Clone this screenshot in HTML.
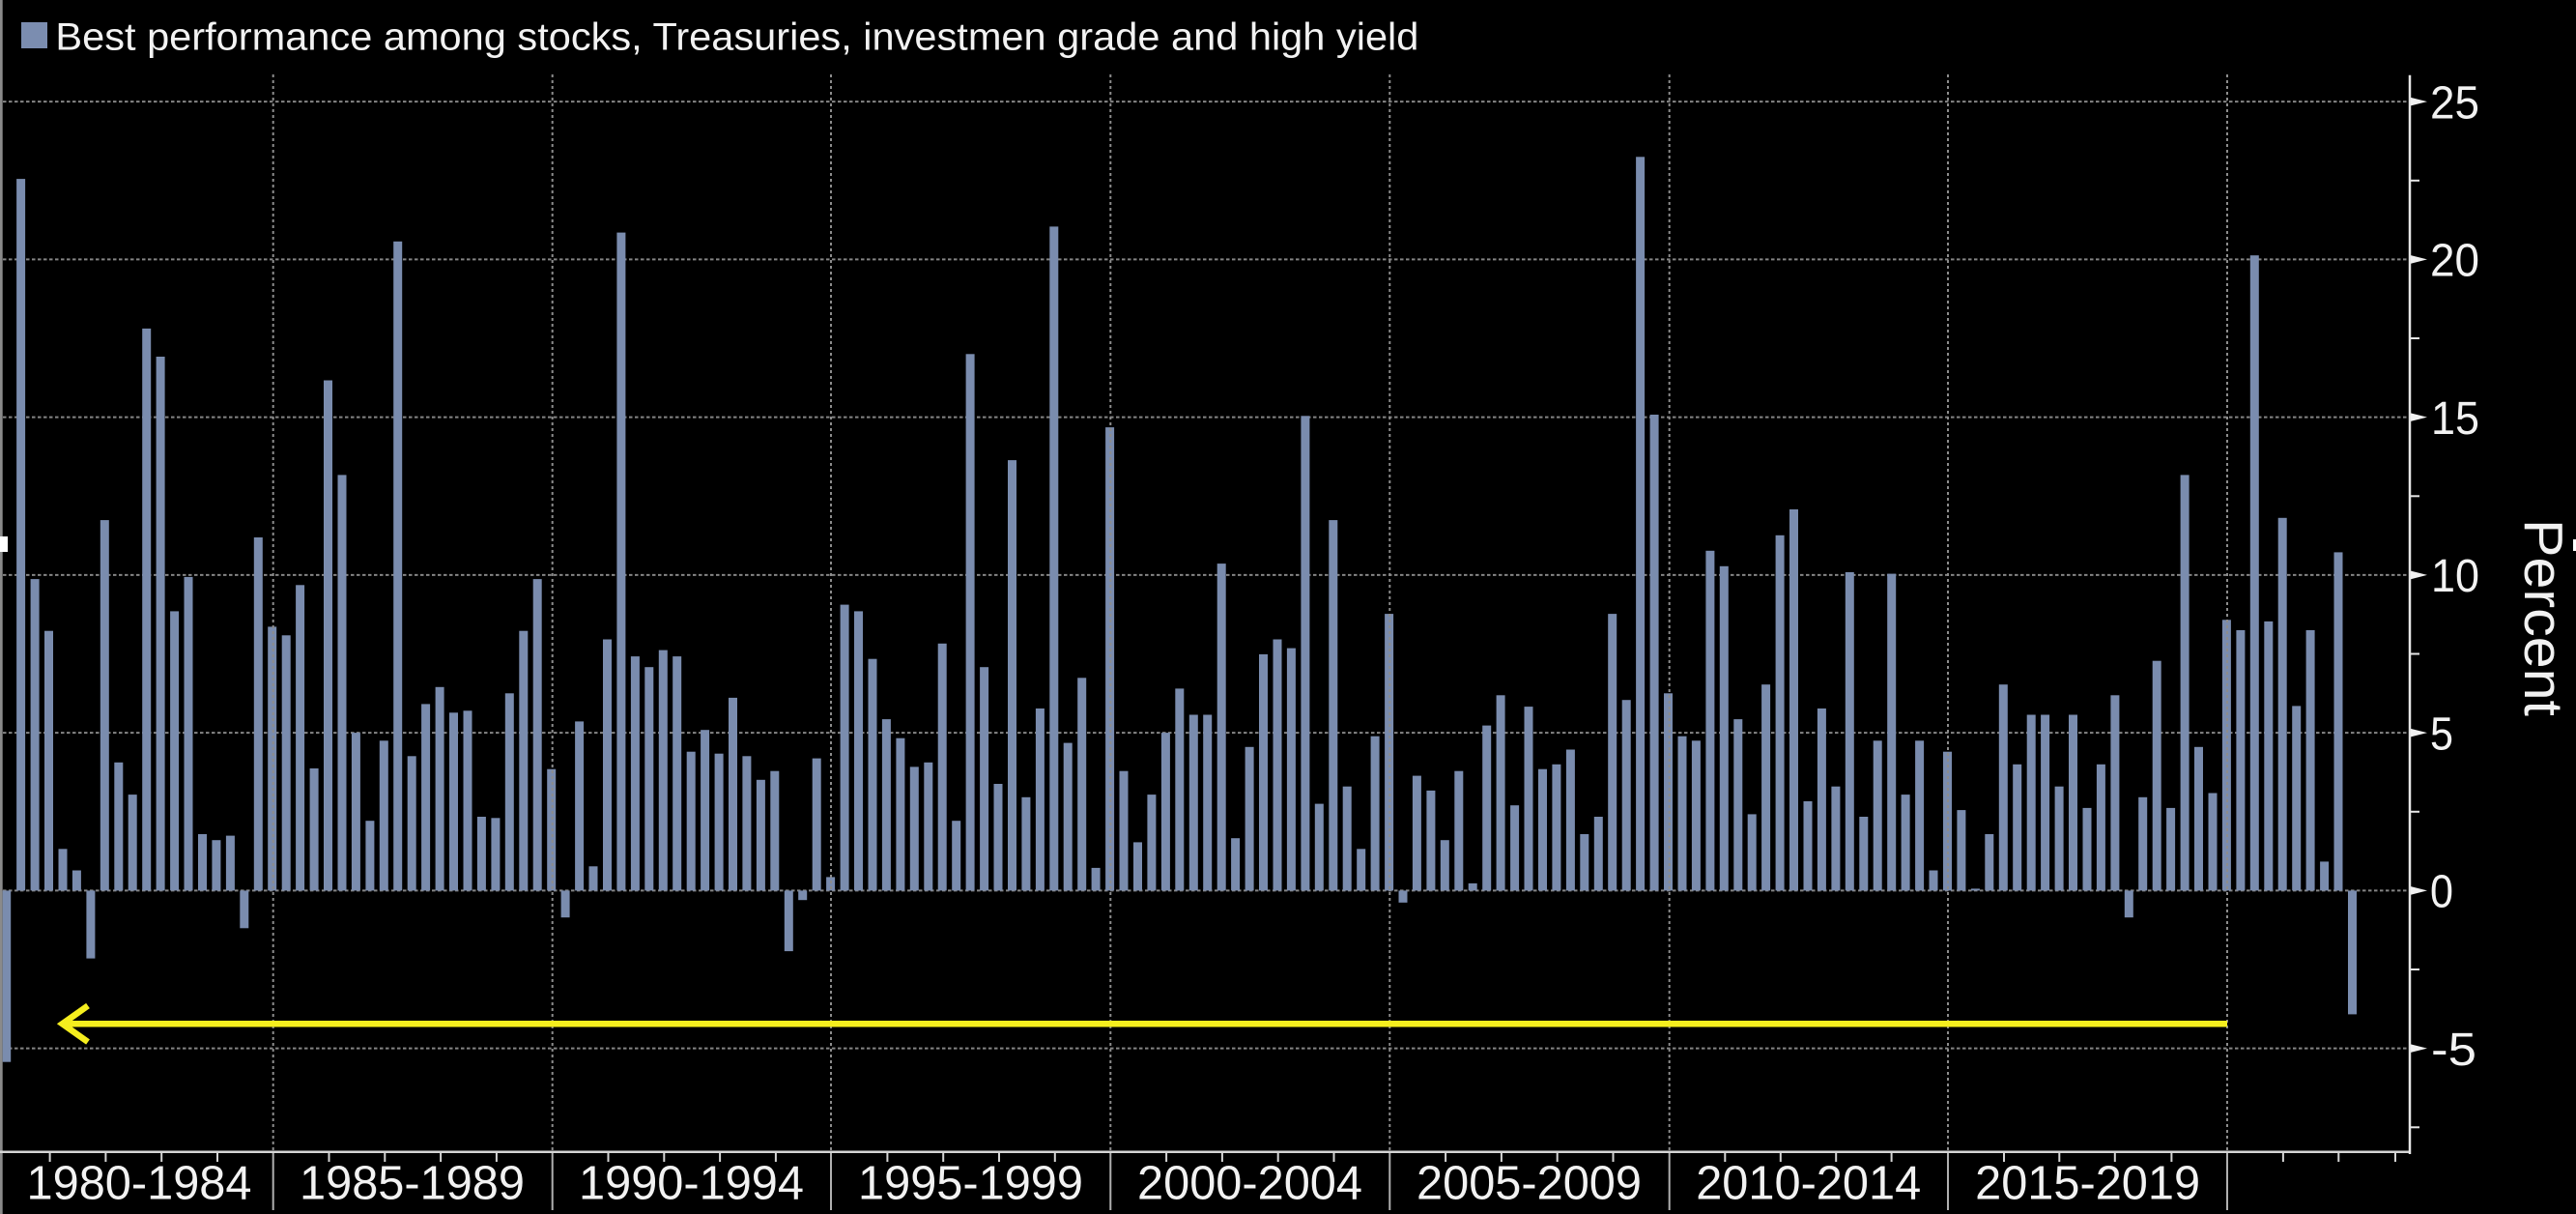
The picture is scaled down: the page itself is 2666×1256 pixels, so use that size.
<!DOCTYPE html>
<html><head><meta charset="utf-8"><style>
html,body{margin:0;padding:0;background:#000;}
svg{display:block;}
text{font-family:"Liberation Sans",sans-serif;fill:#f2f2f2;}
</style></head><body>
<svg width="2666" height="1256" viewBox="0 0 2666 1256" xmlns="http://www.w3.org/2000/svg">
<rect x="0" y="0" width="2666" height="1256" fill="#000"/>
<rect x="0" y="0" width="2.7" height="1256" fill="#8a8a8a"/>
<rect x="0" y="555" width="8" height="16" fill="#fff"/>
<rect x="2663" y="558" width="3" height="12" fill="#fff"/>
<rect x="22" y="23" width="27" height="27" fill="#7b8db0"/>
<text x="57.4" y="51.7" font-size="40" textLength="1411" lengthAdjust="spacingAndGlyphs">Best performance among stocks, Treasuries, investmen grade and high yield</text>
<g stroke="#858585" stroke-width="2" stroke-dasharray="3.5 2.5">
<line x1="3" y1="105.15" x2="2493" y2="105.15"/>
<line x1="3" y1="268.4" x2="2493" y2="268.4"/>
<line x1="3" y1="431.65" x2="2493" y2="431.65"/>
<line x1="3" y1="594.9" x2="2493" y2="594.9"/>
<line x1="3" y1="758.15" x2="2493" y2="758.15"/>
<line x1="3" y1="921.4" x2="2493" y2="921.4"/>
<line x1="3" y1="1084.65" x2="2493" y2="1084.65"/>
</g>
<g fill="#7a8cae">
<rect x="2.7" y="921.4" width="8.5" height="177.3"/>
<rect x="17.1" y="185.1" width="9" height="736.3"/>
<rect x="31.6" y="599.1" width="9" height="322.3"/>
<rect x="46.0" y="652.7" width="9" height="268.7"/>
<rect x="60.5" y="878.3" width="9" height="43.1"/>
<rect x="74.9" y="900.5" width="9" height="20.9"/>
<rect x="89.4" y="921.4" width="9" height="70.2"/>
<rect x="103.8" y="538.1" width="9" height="383.3"/>
<rect x="118.3" y="788.8" width="9" height="132.6"/>
<rect x="132.7" y="822.1" width="9" height="99.3"/>
<rect x="147.2" y="339.9" width="9" height="581.5"/>
<rect x="161.6" y="369.0" width="9" height="552.4"/>
<rect x="176.1" y="632.4" width="9" height="289.0"/>
<rect x="190.5" y="596.9" width="9" height="324.5"/>
<rect x="205.0" y="863.0" width="9" height="58.4"/>
<rect x="219.4" y="869.2" width="9" height="52.2"/>
<rect x="233.9" y="864.6" width="9" height="56.8"/>
<rect x="248.3" y="921.4" width="9" height="38.9"/>
<rect x="262.8" y="556.0" width="9" height="365.4"/>
<rect x="277.2" y="648.4" width="9" height="273.0"/>
<rect x="291.7" y="657.3" width="9" height="264.1"/>
<rect x="306.1" y="605.3" width="9" height="316.1"/>
<rect x="320.6" y="795.0" width="9" height="126.4"/>
<rect x="335.0" y="393.5" width="9" height="527.9"/>
<rect x="349.5" y="491.4" width="9" height="430.0"/>
<rect x="363.9" y="758.1" width="9" height="163.3"/>
<rect x="378.4" y="849.2" width="9" height="72.2"/>
<rect x="392.8" y="766.3" width="9" height="155.1"/>
<rect x="407.2" y="249.8" width="9" height="671.6"/>
<rect x="421.7" y="782.3" width="9" height="139.1"/>
<rect x="436.1" y="728.4" width="9" height="193.0"/>
<rect x="450.6" y="710.8" width="9" height="210.6"/>
<rect x="465.0" y="737.3" width="9" height="184.1"/>
<rect x="479.5" y="735.3" width="9" height="186.1"/>
<rect x="493.9" y="845.0" width="9" height="76.4"/>
<rect x="508.4" y="846.3" width="9" height="75.1"/>
<rect x="522.8" y="717.3" width="9" height="204.1"/>
<rect x="537.3" y="652.7" width="9" height="268.7"/>
<rect x="551.7" y="599.1" width="9" height="322.3"/>
<rect x="566.2" y="795.7" width="9" height="125.7"/>
<rect x="580.6" y="921.4" width="9" height="27.8"/>
<rect x="595.1" y="746.4" width="9" height="175.0"/>
<rect x="609.5" y="896.3" width="9" height="25.1"/>
<rect x="624.0" y="661.5" width="9" height="259.9"/>
<rect x="638.4" y="240.6" width="9" height="680.8"/>
<rect x="652.9" y="679.1" width="9" height="242.3"/>
<rect x="667.3" y="690.2" width="9" height="231.2"/>
<rect x="681.8" y="672.6" width="9" height="248.8"/>
<rect x="696.2" y="679.1" width="9" height="242.3"/>
<rect x="710.7" y="777.7" width="9" height="143.7"/>
<rect x="725.1" y="755.2" width="9" height="166.2"/>
<rect x="739.6" y="779.7" width="9" height="141.7"/>
<rect x="754.0" y="721.9" width="9" height="199.5"/>
<rect x="768.4" y="782.3" width="9" height="139.1"/>
<rect x="782.9" y="806.8" width="9" height="114.6"/>
<rect x="797.3" y="797.7" width="9" height="123.7"/>
<rect x="811.8" y="921.4" width="9" height="62.7"/>
<rect x="826.2" y="921.4" width="9" height="9.8"/>
<rect x="840.7" y="784.6" width="9" height="136.8"/>
<rect x="855.1" y="907.4" width="9" height="14.0"/>
<rect x="869.6" y="625.6" width="9" height="295.8"/>
<rect x="884.0" y="632.4" width="9" height="289.0"/>
<rect x="898.5" y="681.7" width="9" height="239.7"/>
<rect x="912.9" y="744.1" width="9" height="177.3"/>
<rect x="927.4" y="763.7" width="9" height="157.7"/>
<rect x="941.8" y="793.4" width="9" height="128.0"/>
<rect x="956.3" y="788.8" width="9" height="132.6"/>
<rect x="970.7" y="665.8" width="9" height="255.6"/>
<rect x="985.2" y="849.2" width="9" height="72.2"/>
<rect x="999.6" y="366.3" width="9" height="555.1"/>
<rect x="1014.1" y="690.2" width="9" height="231.2"/>
<rect x="1028.5" y="811.0" width="9" height="110.4"/>
<rect x="1043.0" y="476.1" width="9" height="445.3"/>
<rect x="1057.4" y="824.8" width="9" height="96.6"/>
<rect x="1071.9" y="733.0" width="9" height="188.4"/>
<rect x="1086.3" y="234.4" width="9" height="687.0"/>
<rect x="1100.7" y="768.6" width="9" height="152.8"/>
<rect x="1115.2" y="701.3" width="9" height="220.1"/>
<rect x="1129.6" y="897.9" width="9" height="23.5"/>
<rect x="1144.1" y="442.1" width="9" height="479.3"/>
<rect x="1158.5" y="797.7" width="9" height="123.7"/>
<rect x="1173.0" y="871.4" width="9" height="50.0"/>
<rect x="1187.4" y="822.1" width="9" height="99.3"/>
<rect x="1201.9" y="758.1" width="9" height="163.3"/>
<rect x="1216.3" y="712.4" width="9" height="209.0"/>
<rect x="1230.8" y="739.5" width="9" height="181.9"/>
<rect x="1245.2" y="739.5" width="9" height="181.9"/>
<rect x="1259.7" y="583.1" width="9" height="338.3"/>
<rect x="1274.1" y="867.2" width="9" height="54.2"/>
<rect x="1288.6" y="772.8" width="9" height="148.6"/>
<rect x="1303.0" y="676.9" width="9" height="244.5"/>
<rect x="1317.5" y="661.5" width="9" height="259.9"/>
<rect x="1331.9" y="670.6" width="9" height="250.8"/>
<rect x="1346.4" y="430.3" width="9" height="491.1"/>
<rect x="1360.8" y="831.6" width="9" height="89.8"/>
<rect x="1375.3" y="538.1" width="9" height="383.3"/>
<rect x="1389.7" y="813.7" width="9" height="107.7"/>
<rect x="1404.2" y="878.3" width="9" height="43.1"/>
<rect x="1418.6" y="761.7" width="9" height="159.7"/>
<rect x="1433.1" y="635.1" width="9" height="286.3"/>
<rect x="1447.5" y="921.4" width="9" height="12.4"/>
<rect x="1461.9" y="802.6" width="9" height="118.8"/>
<rect x="1476.4" y="817.9" width="9" height="103.5"/>
<rect x="1490.8" y="869.2" width="9" height="52.2"/>
<rect x="1505.3" y="797.7" width="9" height="123.7"/>
<rect x="1519.7" y="913.9" width="9" height="7.5"/>
<rect x="1534.2" y="750.6" width="9" height="170.8"/>
<rect x="1548.6" y="719.3" width="9" height="202.1"/>
<rect x="1563.1" y="833.2" width="9" height="88.2"/>
<rect x="1577.5" y="731.1" width="9" height="190.3"/>
<rect x="1592.0" y="795.7" width="9" height="125.7"/>
<rect x="1606.4" y="790.8" width="9" height="130.6"/>
<rect x="1620.9" y="775.5" width="9" height="145.9"/>
<rect x="1635.3" y="863.0" width="9" height="58.4"/>
<rect x="1649.8" y="845.0" width="9" height="76.4"/>
<rect x="1664.2" y="635.1" width="9" height="286.3"/>
<rect x="1678.7" y="724.2" width="9" height="197.2"/>
<rect x="1693.1" y="162.3" width="9" height="759.1"/>
<rect x="1707.6" y="429.0" width="9" height="492.4"/>
<rect x="1722.0" y="717.3" width="9" height="204.1"/>
<rect x="1736.5" y="761.7" width="9" height="159.7"/>
<rect x="1750.9" y="766.3" width="9" height="155.1"/>
<rect x="1765.4" y="569.8" width="9" height="351.6"/>
<rect x="1779.8" y="585.8" width="9" height="335.6"/>
<rect x="1794.3" y="744.1" width="9" height="177.3"/>
<rect x="1808.7" y="842.4" width="9" height="79.0"/>
<rect x="1823.1" y="708.2" width="9" height="213.2"/>
<rect x="1837.6" y="553.8" width="9" height="367.6"/>
<rect x="1852.0" y="527.0" width="9" height="394.4"/>
<rect x="1866.5" y="829.0" width="9" height="92.4"/>
<rect x="1880.9" y="733.0" width="9" height="188.4"/>
<rect x="1895.4" y="813.7" width="9" height="107.7"/>
<rect x="1909.8" y="592.0" width="9" height="329.4"/>
<rect x="1924.3" y="845.0" width="9" height="76.4"/>
<rect x="1938.7" y="766.3" width="9" height="155.1"/>
<rect x="1953.2" y="593.6" width="9" height="327.8"/>
<rect x="1967.6" y="822.1" width="9" height="99.3"/>
<rect x="1982.1" y="766.3" width="9" height="155.1"/>
<rect x="1996.5" y="900.5" width="9" height="20.9"/>
<rect x="2011.0" y="777.7" width="9" height="143.7"/>
<rect x="2025.4" y="838.1" width="9" height="83.3"/>
<rect x="2039.9" y="919.4" width="9" height="2"/>
<rect x="2054.3" y="863.0" width="9" height="58.4"/>
<rect x="2068.8" y="708.2" width="9" height="213.2"/>
<rect x="2083.2" y="790.8" width="9" height="130.6"/>
<rect x="2097.7" y="739.5" width="9" height="181.9"/>
<rect x="2112.1" y="739.5" width="9" height="181.9"/>
<rect x="2126.6" y="813.7" width="9" height="107.7"/>
<rect x="2141.0" y="739.5" width="9" height="181.9"/>
<rect x="2155.5" y="835.9" width="9" height="85.5"/>
<rect x="2169.9" y="790.8" width="9" height="130.6"/>
<rect x="2184.4" y="719.3" width="9" height="202.1"/>
<rect x="2198.8" y="921.4" width="9" height="27.8"/>
<rect x="2213.2" y="824.8" width="9" height="96.6"/>
<rect x="2227.7" y="683.7" width="9" height="237.7"/>
<rect x="2242.1" y="835.9" width="9" height="85.5"/>
<rect x="2256.6" y="491.4" width="9" height="430.0"/>
<rect x="2271.0" y="772.8" width="9" height="148.6"/>
<rect x="2285.5" y="820.5" width="9" height="100.9"/>
<rect x="2299.9" y="641.3" width="9" height="280.1"/>
<rect x="2314.4" y="652.0" width="9" height="269.4"/>
<rect x="2328.8" y="264.2" width="9" height="657.2"/>
<rect x="2343.3" y="642.9" width="9" height="278.5"/>
<rect x="2357.7" y="535.8" width="9" height="385.6"/>
<rect x="2372.2" y="730.4" width="9" height="191.0"/>
<rect x="2386.6" y="652.0" width="9" height="269.4"/>
<rect x="2401.1" y="891.4" width="9" height="30.0"/>
<rect x="2415.5" y="571.4" width="9" height="350.0"/>
<rect x="2430.0" y="921.4" width="9" height="128.0"/>
</g>
<g stroke="#8c8c8c" stroke-width="2" stroke-dasharray="3 3">
<line x1="282.7" y1="77" x2="282.7" y2="1191"/>
<line x1="571.7" y1="77" x2="571.7" y2="1191"/>
<line x1="860" y1="77" x2="860" y2="1191"/>
<line x1="1149.3" y1="77" x2="1149.3" y2="1191"/>
<line x1="1438.3" y1="77" x2="1438.3" y2="1191"/>
<line x1="1727.7" y1="77" x2="1727.7" y2="1191"/>
<line x1="2016" y1="77" x2="2016" y2="1191"/>
<line x1="2305" y1="77" x2="2305" y2="1191"/>
</g>
<g stroke="#b0b0b0" stroke-width="2">
<line x1="282.7" y1="1192" x2="282.7" y2="1252"/>
<line x1="571.7" y1="1192" x2="571.7" y2="1252"/>
<line x1="860" y1="1192" x2="860" y2="1252"/>
<line x1="1149.3" y1="1192" x2="1149.3" y2="1252"/>
<line x1="1438.3" y1="1192" x2="1438.3" y2="1252"/>
<line x1="1727.7" y1="1192" x2="1727.7" y2="1252"/>
<line x1="2016" y1="1192" x2="2016" y2="1252"/>
<line x1="2305" y1="1192" x2="2305" y2="1252"/>
</g>
<g stroke="#f5ee1e" stroke-width="6.5" fill="none">
<line x1="64" y1="1059.3" x2="2305" y2="1059.3"/>
<polyline points="91,1040.5 64.5,1059.3 91,1078" stroke-linejoin="miter" stroke-miterlimit="4"/>
</g>
<line x1="0" y1="1191.7" x2="2495" y2="1191.7" stroke="#d4d4d4" stroke-width="2.5"/>
<g stroke="#d4d4d4" stroke-width="2">
<line x1="51.6" y1="1192" x2="51.6" y2="1202"/>
<line x1="109.4" y1="1192" x2="109.4" y2="1202"/>
<line x1="167.2" y1="1192" x2="167.2" y2="1202"/>
<line x1="225.0" y1="1192" x2="225.0" y2="1202"/>
<line x1="340.5" y1="1192" x2="340.5" y2="1202"/>
<line x1="398.3" y1="1192" x2="398.3" y2="1202"/>
<line x1="456.1" y1="1192" x2="456.1" y2="1202"/>
<line x1="513.9" y1="1192" x2="513.9" y2="1202"/>
<line x1="629.5" y1="1192" x2="629.5" y2="1202"/>
<line x1="687.3" y1="1192" x2="687.3" y2="1202"/>
<line x1="745.1" y1="1192" x2="745.1" y2="1202"/>
<line x1="802.9" y1="1192" x2="802.9" y2="1202"/>
<line x1="918.4" y1="1192" x2="918.4" y2="1202"/>
<line x1="976.2" y1="1192" x2="976.2" y2="1202"/>
<line x1="1034" y1="1192" x2="1034" y2="1202"/>
<line x1="1091.8" y1="1192" x2="1091.8" y2="1202"/>
<line x1="1207.1" y1="1192" x2="1207.1" y2="1202"/>
<line x1="1264.9" y1="1192" x2="1264.9" y2="1202"/>
<line x1="1322.7" y1="1192" x2="1322.7" y2="1202"/>
<line x1="1380.5" y1="1192" x2="1380.5" y2="1202"/>
<line x1="1496.1" y1="1192" x2="1496.1" y2="1202"/>
<line x1="1553.9" y1="1192" x2="1553.9" y2="1202"/>
<line x1="1611.7" y1="1192" x2="1611.7" y2="1202"/>
<line x1="1669.5" y1="1192" x2="1669.5" y2="1202"/>
<line x1="1785.3" y1="1192" x2="1785.3" y2="1202"/>
<line x1="1842.8" y1="1192" x2="1842.8" y2="1202"/>
<line x1="1900.2" y1="1192" x2="1900.2" y2="1202"/>
<line x1="1957.6" y1="1192" x2="1957.6" y2="1202"/>
<line x1="2074" y1="1192" x2="2074" y2="1202"/>
<line x1="2131.3" y1="1192" x2="2131.3" y2="1202"/>
<line x1="2188.8" y1="1192" x2="2188.8" y2="1202"/>
<line x1="2247.4" y1="1192" x2="2247.4" y2="1202"/>
<line x1="2362.9" y1="1192" x2="2362.9" y2="1202"/>
<line x1="2420.3" y1="1192" x2="2420.3" y2="1202"/>
<line x1="2479" y1="1192" x2="2479" y2="1202"/>
</g>
<g font-size="49" text-anchor="middle">
<text x="144" y="1240.7" textLength="233" lengthAdjust="spacingAndGlyphs">1980-1984</text>
<text x="426.5" y="1240.7" textLength="233" lengthAdjust="spacingAndGlyphs">1985-1989</text>
<text x="715.5" y="1240.7" textLength="233" lengthAdjust="spacingAndGlyphs">1990-1994</text>
<text x="1004.5" y="1240.7" textLength="233" lengthAdjust="spacingAndGlyphs">1995-1999</text>
<text x="1293.5" y="1240.7" textLength="233" lengthAdjust="spacingAndGlyphs">2000-2004</text>
<text x="1582.5" y="1240.7" textLength="233" lengthAdjust="spacingAndGlyphs">2005-2009</text>
<text x="1871.7" y="1240.7" textLength="233" lengthAdjust="spacingAndGlyphs">2010-2014</text>
<text x="2160.6" y="1240.7" textLength="233" lengthAdjust="spacingAndGlyphs">2015-2019</text>
</g>
<line x1="2494" y1="77.7" x2="2494" y2="1194" stroke="#e6e6e6" stroke-width="2.5"/>
<g fill="#f0f0f0">
<polygon points="2495,100.9 2512,105.15 2495,109.4"/>
<polygon points="2495,264.1 2512,268.4 2495,272.7"/>
<polygon points="2495,427.4 2512,431.65 2495,435.9"/>
<polygon points="2495,590.6 2512,594.9 2495,599.2"/>
<polygon points="2495,753.9 2512,758.15 2495,762.4"/>
<polygon points="2495,917.1 2512,921.4 2495,925.7"/>
<polygon points="2495,1080.4 2512,1084.65 2495,1088.9"/>
</g>
<g stroke="#e6e6e6" stroke-width="2">
<line x1="2495" y1="186.8" x2="2504" y2="186.8"/>
<line x1="2495" y1="350.0" x2="2504" y2="350.0"/>
<line x1="2495" y1="513.3" x2="2504" y2="513.3"/>
<line x1="2495" y1="676.5" x2="2504" y2="676.5"/>
<line x1="2495" y1="839.8" x2="2504" y2="839.8"/>
<line x1="2495" y1="1003.0" x2="2504" y2="1003.0"/>
<line x1="2495" y1="1166.3" x2="2504" y2="1166.3"/>
</g>
<g font-size="48">
<text x="2515" y="122.4" textLength="51" lengthAdjust="spacingAndGlyphs">25</text>
<text x="2515" y="285.6" textLength="51" lengthAdjust="spacingAndGlyphs">20</text>
<text x="2516" y="448.9" textLength="50" lengthAdjust="spacingAndGlyphs">15</text>
<text x="2516" y="612.1" textLength="50" lengthAdjust="spacingAndGlyphs">10</text>
<text x="2515" y="775.4" textLength="24" lengthAdjust="spacingAndGlyphs">5</text>
<text x="2515" y="938.6" textLength="24" lengthAdjust="spacingAndGlyphs">0</text>
<text x="2516" y="1101.9" textLength="47" lengthAdjust="spacingAndGlyphs">-5</text>
</g>
<text transform="translate(2613,639) rotate(90)" x="0" y="0" font-size="57" text-anchor="middle" textLength="204" lengthAdjust="spacingAndGlyphs">Percent</text>
</svg>
</body></html>
